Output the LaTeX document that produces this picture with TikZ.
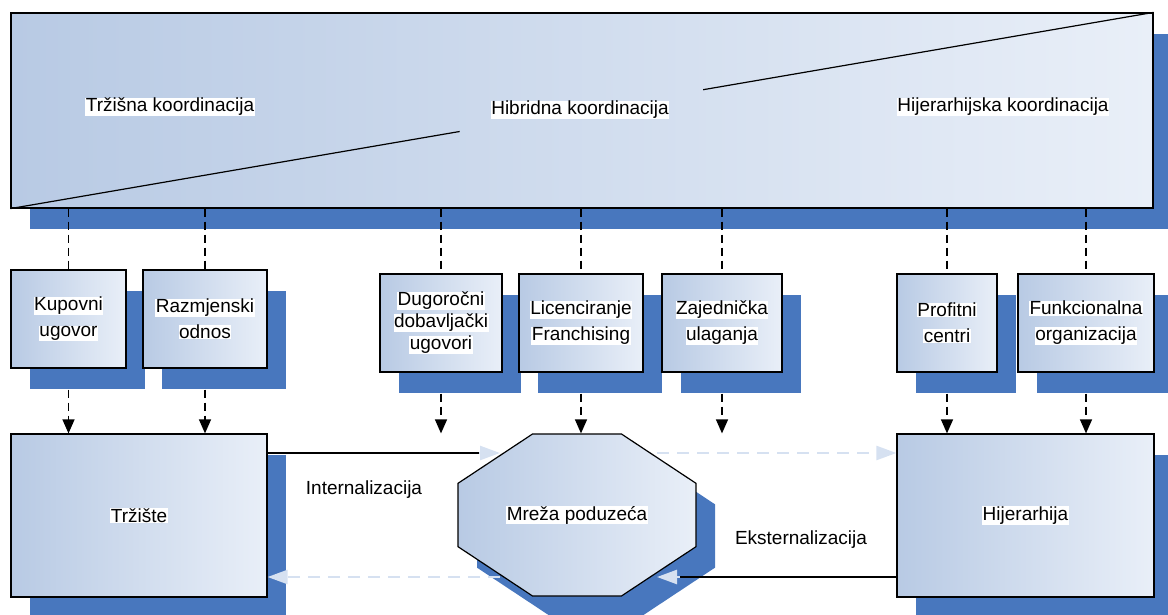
\documentclass[tikz,border=0pt]{standalone}
\usepackage{fontspec}
\setmainfont{Liberation Sans}
\usepackage{tikz}
\usetikzlibrary{calc}
\usetikzlibrary{shapes,arrows.meta}
\usetikzlibrary{shadows}

\definecolor{plavalijeva}{RGB}{184,202,228}
\definecolor{plavadesna}{RGB}{233,239,248}
\definecolor{sjena}{RGB}{72,119,190}
\definecolor{blijeda}{RGB}{214,225,241}

\newcommand{\bijelo}[1]{{\setlength{\fboxsep}{0.5pt}\colorbox{white}{#1}}}

\begin{document}
\begin{tikzpicture} [x=1pt, y=-1pt, font=\fontsize{19}{26}\selectfont,
		oblik/.style={draw=black, line width=1.2pt, left color=plavalijeva, right color=plavadesna,%
			drop shadow={shadow xshift=19pt, shadow yshift=-21pt, fill=sjena, opacity=1}},
		kutija/.style={oblik, align=center, minimum height=98pt, inner sep=2pt},
		crtkano/.style={line width=1.3pt, dash pattern=on 8pt off 5pt},
		strelica/.style={crtkano, -{Triangle[width=12pt, length=14pt]}},
		blijedo/.style={draw=blijeda, line width=2.5pt, dash pattern=on 12pt off 8pt, -{Triangle[width=14pt, length=20pt]}}]

		\useasboundingbox (0,0) rectangle (1168,615);

		\node[oblik, minimum width=1142pt, minimum height=195pt] (koord) at (582,110.5) {};

		\draw [line width=1.2pt] (koord.south west) -- ($(koord.south west)!0.393!(koord.north east)$);

		\draw [line width=1.2pt] ($(koord.south west)!0.606!(koord.north east)$) -- (koord.north east);

		\node (trzisna) at (170,107) {\bijelo{Tržišna koordinacija}};

		\node (hibridna) at (580,110) {\bijelo{Hibridna koordinacija}};

		\node (hijerkoord) at (1003,107) {\bijelo{Hijerarhijska koordinacija}};

		\node[kutija, minimum width=115pt] (kupovni) at (68.5,319)%
		{\bijelo{Kupovni}\\ \bijelo{ugovor}};

		\node[kutija, minimum width=124pt] (razmjenski) at (205,319)%
		{\bijelo{Razmjenski}\\ \bijelo{odnos}};

		\node[kutija, minimum width=122pt, font=\fontsize{19}{22}\selectfont] (dugorocni) at (441,323)%
		{\bijelo{Dugoročni}\\ \bijelo{dobavljački}\\ \bijelo{ugovori}};

		\node[kutija, minimum width=124pt] (licenciranje) at (581,323)%
		{\bijelo{Licenciranje}\\ \bijelo{Franchising}};

		\node[kutija, minimum width=120pt] (zajednicka) at (722,323)%
		{\bijelo{Zajednička}\\ \bijelo{ulaganja}};

		\node[kutija, minimum width=100pt] (profitni) at (947,323)%
		{\bijelo{Profitni}\\ \bijelo{centri}};

		\node[kutija, minimum width=136pt] (funkcionalna) at (1086,323)%
		{\bijelo{Funkcionalna}\\ \bijelo{organizacija}};

		\node[oblik, minimum width=256pt, minimum height=163pt] (trziste) at (139,515.5)%
		{\bijelo{Tržište}};

		\node[oblik, minimum width=257pt, minimum height=163pt] (hijerarhija) at (1025.5,515.5)%
		{\bijelo{Hijerarhija}};

		\node[oblik, chamfered rectangle, chamfered rectangle angle=56.5, chamfered rectangle ysep=47pt,%
			minimum width=238pt, minimum height=162pt] (mreza) at (577,515)%
		{\bijelo{Mreža poduzeća}};

		\node (internalizacija) at (364,490) {\bijelo{Internalizacija}};

		\node (eksternalizacija) at (801,540) {\bijelo{Eksternalizacija}};

		\foreach \kut in {kupovni, razmjenski, dugorocni, licenciranje, zajednicka, profitni, funkcionalna}
			\draw [crtkano] (\kut.north |- koord.south) -- (\kut.north);

		\foreach \kut in {kupovni, razmjenski}
			\draw [strelica] ([yshift=-21pt]\kut.south) -- (\kut.south |- trziste.north);

		\foreach \kut in {dugorocni, licenciranje, zajednicka}
			\draw [strelica] ([yshift=-21pt]\kut.south) -- (\kut.south |- mreza.north);

		\foreach \kut in {profitni, funkcionalna}
			\draw [strelica] ([yshift=-21pt]\kut.south) -- (\kut.south |- hijerarhija.north);

		\coordinate (intkraj) at (479,453);

		\coordinate (intvrh) at (500,453);

		\coordinate (intizlaz) at (657,453);

		\coordinate (ekstkraj) at (680,577);

		\coordinate (ekstvrh) at (657,577);

		\coordinate (ekstizlaz) at (500,577);

		\draw [line width=1.2pt] (trziste.east |- intkraj) -- (intkraj);

		\draw [blijedo, solid] (intkraj) -- (intvrh);

		\draw [blijedo] (intizlaz) -- (hijerarhija.west |- intizlaz);

		\draw [line width=1.2pt] (hijerarhija.west |- ekstkraj) -- (ekstkraj);

		\draw [blijedo, solid] (ekstkraj) -- (ekstvrh);

		\draw [blijedo] (ekstizlaz) -- (trziste.east |- ekstizlaz);
	\end{tikzpicture}
\end{document}
